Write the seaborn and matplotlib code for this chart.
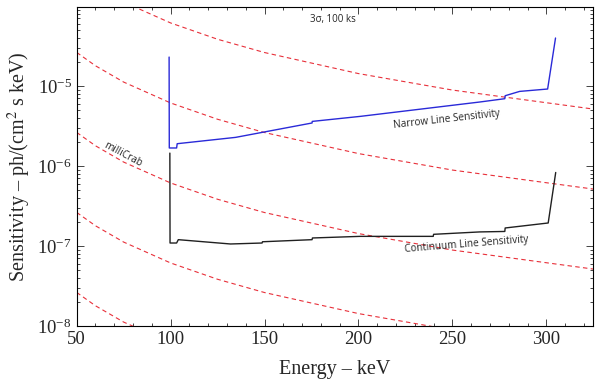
import numpy as np
import pandas as pd
import matplotlib
matplotlib.use("Agg")
import matplotlib.pyplot as plt
from matplotlib.ticker import MultipleLocator, LogLocator
import seaborn as sns

# ================================
# DATA
# ================================
# narrow line sensitivity (blue)
narrow_E = [99.2, 99.3, 103.2, 103.5, 134.6, 175.3, 175.4, 200.9, 264.6, 277.9, 278.1, 285.8, 300.7, 304.9]
narrow_S = [2.30e-5, 1.68e-6, 1.68e-6, 1.90e-6, 2.28e-6, 3.45e-6, 3.61e-6, 4.17e-6, 6.31e-6, 6.94e-6,
            7.56e-6, 8.56e-6, 9.17e-6, 3.98e-5]

# continuum line sensitivity (black)
cont_E = [99.6, 99.7, 103.2, 104.1, 131.9, 148.7, 148.9, 175.3, 175.5, 200.9, 239.8, 240.0, 264.6,
          277.9, 278.1, 301.0, 305.0]
cont_S = [1.45e-6, 1.09e-7, 1.09e-7, 1.20e-7, 1.06e-7, 1.09e-7, 1.13e-7, 1.20e-7, 1.26e-7, 1.32e-7,
          1.32e-7, 1.40e-7, 1.50e-7, 1.52e-7, 1.68e-7, 1.94e-7, 8.30e-7]

# crab-like reference lines (red dashed)
crab_E = [50, 60, 75, 100, 125, 150, 200, 250, 325]
crab_100m = [2.63e-4, 1.79e-4, 1.12e-4, 6.14e-5, 3.84e-5, 2.62e-5, 1.43e-5, 8.9e-6, 5.15e-6]
crab_10m = [2.63e-5, 1.79e-5, 1.12e-5, 6.14e-6, 3.84e-6, 2.62e-6, 1.43e-6, 8.9e-7, 5.15e-7]
crab_1m = [2.63e-6, 1.79e-6, 1.12e-6, 6.14e-7, 3.84e-7, 2.62e-7, 1.43e-7, 8.9e-8, 5.15e-8]
crab_01m = [2.63e-7, 1.79e-7, 1.12e-7, 6.14e-8, 3.84e-8, 2.62e-8, 1.43e-8, 8.9e-9, 5.15e-9]
crab_001m = [2.63e-8, 1.79e-8, 1.12e-8, 6.14e-9, 3.84e-9, 2.62e-9, 1.43e-9, 8.9e-10, 5.15e-10]

# ================================
# PLOT
# ================================
sns.set_style("ticks")
plt.rcParams['font.family'] = ['Liberation Serif', 'DejaVu Serif']
plt.rcParams['mathtext.fontset'] = 'stix'

fig = plt.figure(figsize=(6, 3.83), dpi=100)
ax = fig.add_axes([0.1278, 0.1488, 0.861, 0.8337])

red = '#e8303a'
for vals in [crab_100m, crab_10m, crab_1m, crab_01m, crab_001m]:
    sns.lineplot(x=crab_E, y=vals, ax=ax, color=red, lw=0.8, dashes=False,
                 linestyle=(0, (4, 3)), sort=False, estimator=None)

sns.lineplot(x=narrow_E, y=narrow_S, ax=ax, color='#2a2ad8', lw=1.0, sort=False, estimator=None)
sns.lineplot(x=cont_E, y=cont_S, ax=ax, color='#202020', lw=1.0, sort=False, estimator=None)

ax.set_yscale('log')
ax.set_xlim(50, 325)
ax.set_ylim(1e-8, 9.8e-5)

ax.xaxis.set_major_locator(MultipleLocator(50))
ax.xaxis.set_minor_locator(MultipleLocator(10))
ax.yaxis.set_major_locator(LogLocator(base=10, numticks=10))
ax.yaxis.set_minor_locator(LogLocator(base=10, subs=np.arange(2, 10), numticks=20))
ax.tick_params(which='both', direction='in', top=True, right=True, width=0.6, labelsize=13.5)
ax.tick_params(which='major', length=5)
ax.tick_params(which='minor', length=2.5)
for sp in ax.spines.values():
    sp.set_linewidth(0.8)
    sp.set_color('black')

ax.set_xlabel('Energy \u2013 keV', fontsize=14.5, labelpad=9)
ax.set_ylabel('Sensitivity \u2013 ph/(cm$^2$ s keV)', fontsize=14.5, labelpad=3)

sans = ['Open Sans', 'DejaVu Sans']
ax.text(186.6, 6.7e-5, '3\u03c3, 100 ks', fontsize=7, family=sans, ha='center', va='center')
ax.text(246.9, 3.8e-6, 'Narrow Line Sensitivity', fontsize=7.2, family=sans, ha='center', va='center',
        rotation=6.4)
ax.text(257.5, 1.05e-7, 'Continuum Line Sensitivity', fontsize=7.2, family=sans, ha='center', va='center',
        rotation=4.6)
ax.text(74.4, 1.38e-6, 'milliCrab', fontsize=7.2, family=sans, ha='center', va='center', rotation=-28)

fig.savefig('out.png', dpi=100)
